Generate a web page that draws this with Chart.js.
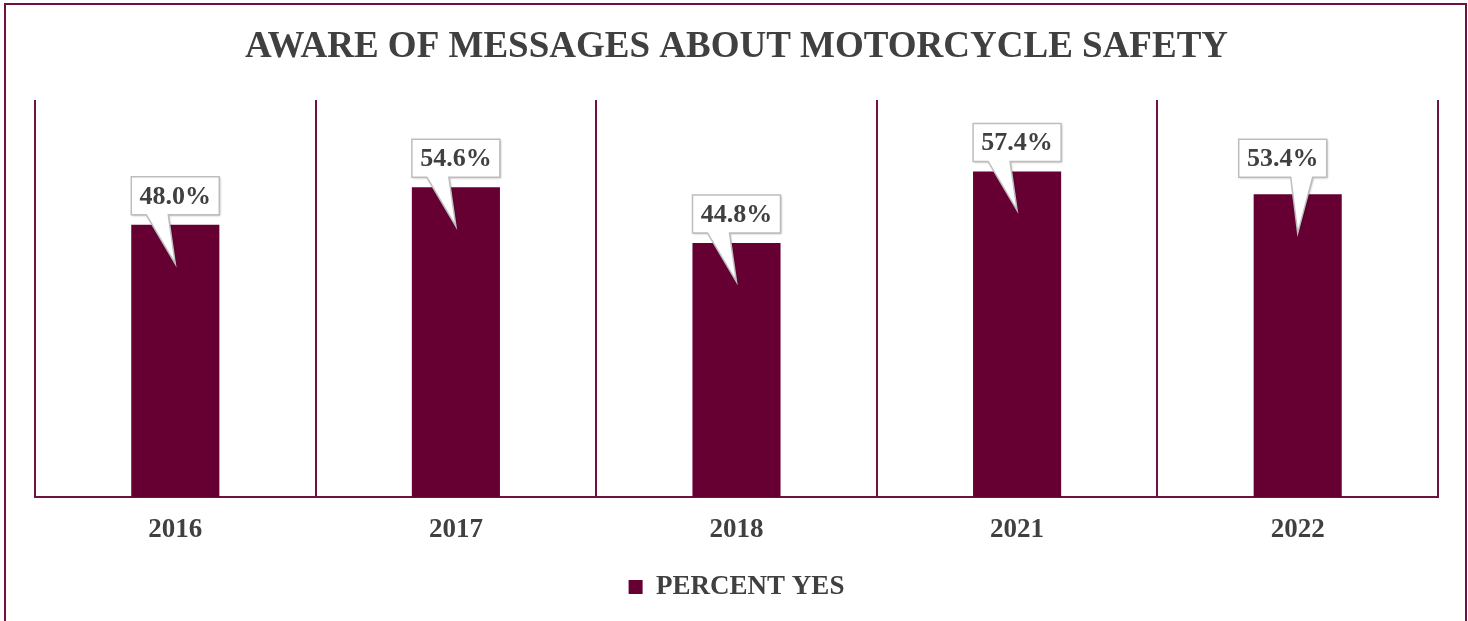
<!DOCTYPE html>
<html>
<head>
<meta charset="utf-8">
<script src="https://cdn.jsdelivr.net/npm/chart.js@4"></script>
<style>
  body { margin: 0; background: #fff; }
  #wrap { width: 1468px; height: 621px; }
</style>
</head>
<body>
<div id="wrap"><canvas id="myChart" width="1468" height="621"></canvas></div>
<script>
const years = ['2016', '2017', '2018', '2021', '2022'];
const percentYes = [48.0, 54.6, 44.8, 57.4, 53.4];

const maroon = '#660033';
const lineMaroon = '#6e1242';
const textGrey = '#404040';
const serif = "'Liberation Serif', 'Times New Roman', serif";

// outer frame round the whole chart (bottom edge runs past the canvas)
const framePlugin = {
    id: 'frame',
    beforeDraw(chart) {
        const ctx = chart.ctx;
        ctx.save();
        ctx.strokeStyle = lineMaroon;
        ctx.lineWidth = 2;
        ctx.strokeRect(5, 4, chart.width - 7, chart.height + 20);
        ctx.restore();
    }
};

// speech-bubble value labels above each bar
const calloutPlugin = {
    id: 'callouts',
    afterDatasetsDraw(chart, args, opts) {
        const ctx = chart.ctx;
        const meta = chart.getDatasetMeta(0);
        const values = chart.data.datasets[0].data;
        meta.data.forEach((bar, i) => {
            const o = (opts.tweaks && opts.tweaks[i]) || {};
            const dx = o.dx || 0, dy = o.dy || 0;
            const baseAt = o.base != null ? o.base : 15;
            const w = 88, h = 38;
            const left = bar.x - w / 2 + dx;
            const bottom = bar.y - 10 + dy;
            const top = bottom - h;
            const tipX = bar.x, tipY = bar.y + 39;

            ctx.save();
            ctx.beginPath();
            ctx.moveTo(left, top);
            ctx.lineTo(left + w, top);
            ctx.lineTo(left + w, bottom);
            ctx.lineTo(left + baseAt + 22, bottom);
            ctx.lineTo(tipX, tipY);
            ctx.lineTo(left + baseAt, bottom);
            ctx.lineTo(left, bottom);
            ctx.closePath();
            ctx.shadowColor = 'rgba(0,0,0,0.3)';
            ctx.shadowBlur = 2;
            ctx.shadowOffsetX = 1;
            ctx.shadowOffsetY = 1;
            ctx.fillStyle = '#fff';
            ctx.fill();
            ctx.shadowColor = 'transparent';
            ctx.strokeStyle = '#bdbdbd';
            ctx.lineWidth = 1.5;
            ctx.stroke();

            ctx.fillStyle = textGrey;
            ctx.font = 'bold 26px ' + serif;
            ctx.textAlign = 'center';
            ctx.textBaseline = 'middle';
            ctx.fillText(values[i].toFixed(1) + '%', left + w / 2, top + h / 2 + 1);
            ctx.restore();
        });
    }
};

new Chart(document.getElementById('myChart').getContext('2d'), {
    type: 'bar',
    data: {
        labels: years,
        datasets: [{
            label: 'PERCENT YES',
            data: percentYes,
            backgroundColor: maroon,
            borderWidth: 0,
            categoryPercentage: 1,
            barPercentage: 0.314
        }]
    },
    options: {
        responsive: false,
        animation: false,
        layout: { padding: { left: 35, right: 30, top: 0, bottom: 10.5 } },
        plugins: {
            title: {
                display: true,
                text: 'AWARE OF MESSAGES ABOUT MOTORCYCLE SAFETY',
                color: textGrey,
                font: { family: serif, size: 37, weight: 'bold', lineHeight: 1.2 },
                padding: { top: 25.6, bottom: 30 }
            },
            legend: {
                display: true,
                position: 'bottom',
                labels: {
                    color: textGrey,
                    font: { family: serif, size: 27, weight: 'bold' },
                    boxWidth: 14,
                    boxHeight: 14,
                    padding: 10
                }
            },
            tooltip: { enabled: false },
            callouts: {
                tweaks: [{}, {}, {}, {}, { dx: -15, dy: -7, base: 52 }]
            }
        },
        scales: {
            x: {
                grid: {
                    display: true,
                    offset: true,
                    color: lineMaroon,
                    lineWidth: 2,
                    drawTicks: false
                },
                border: { display: true, color: lineMaroon, width: 2 },
                ticks: {
                    color: textGrey,
                    font: { family: serif, size: 27, weight: 'bold' },
                    padding: 17
                }
            },
            y: {
                display: false,
                min: 0,
                max: 70
            }
        }
    },
    plugins: [framePlugin, calloutPlugin]
});
</script>
</body>
</html>
